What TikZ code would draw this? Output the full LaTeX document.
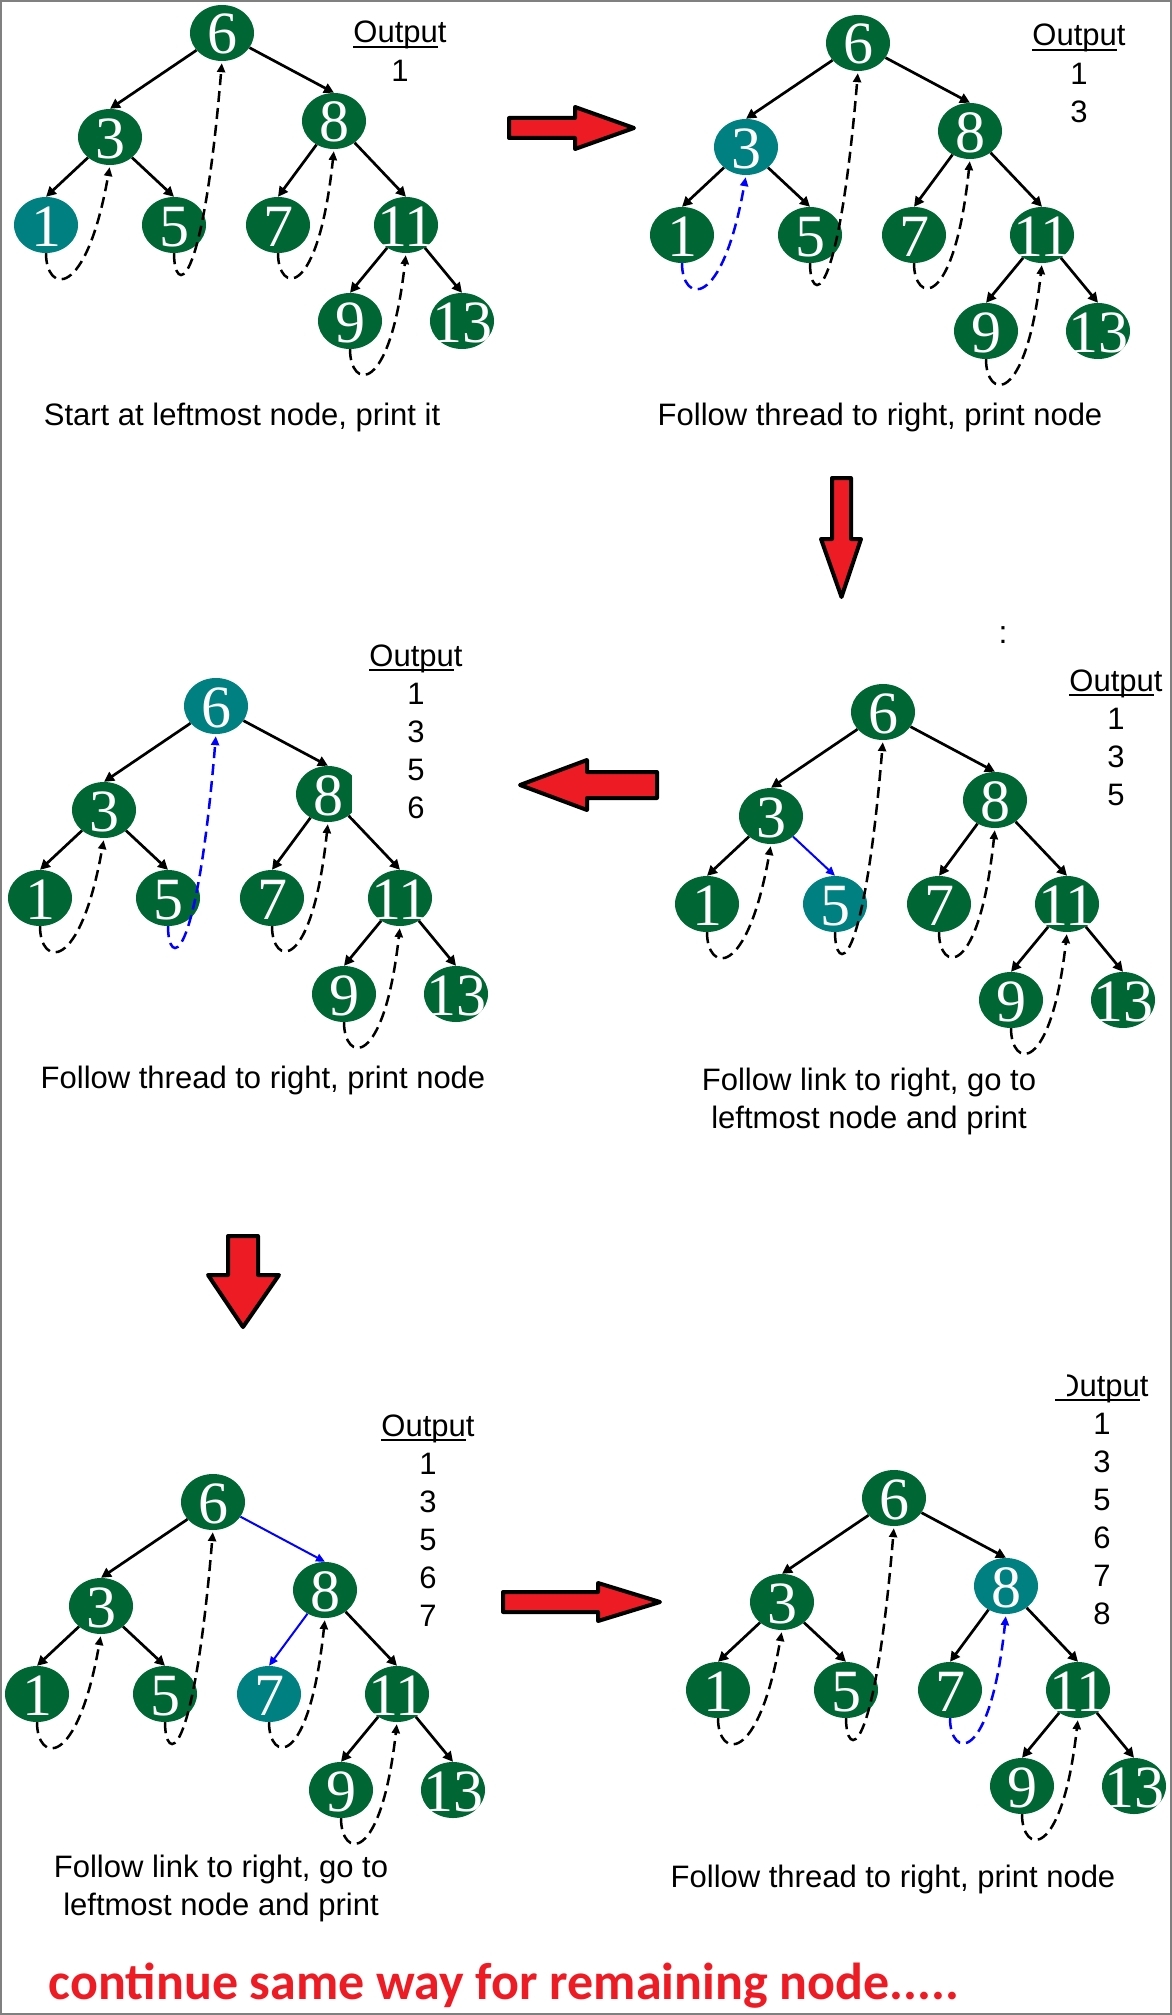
\documentclass[tikz,border=0pt]{standalone}
\usepackage{fontspec}
\usetikzlibrary{shapes.geometric,arrows.meta,calc}
\newfontfamily\serifd{Liberation Serif}
\newfontfamily\sansf{Liberation Sans}
\newfontfamily\carl{Carlito}
\definecolor{ngreen}{RGB}{0,102,51}
\definecolor{nteal}{RGB}{0,128,128}
\definecolor{ared}{RGB}{237,28,36}
\definecolor{framegray}{RGB}{128,128,128}
\newcommand\dig[1]{\makebox[0pt]{\raisebox{-0.35em}[0pt][0pt]{#1}}}
\tikzset{
 tn/.style={ellipse, fill=ngreen, text=white, minimum width=64pt, minimum height=56pt, inner sep=0pt, font=\serifd\fontsize{60}{60}\selectfont},
 hl/.style={fill=nteal},
 edge/.style={-{Triangle[length=10pt,width=10pt]}, line width=2.7pt, black},
 bedge/.style={-{Triangle[length=9pt,width=8pt]}, line width=2pt, blue},
 thr/.style={-{Triangle[length=9pt,width=8pt]}, line width=2.5pt, dash pattern=on 11pt off 6pt, shorten >=2pt, black},
 txt/.style={font=\sansf\fontsize{31}{38}\selectfont, inner sep=0pt},
 bigarr/.style={fill=ared, draw=black, line width=4pt, line join=round},
 s1/.style={},s3/.style={},s5/.style={},s6/.style={},s7/.style={},s8/.style={},s9/.style={},s11/.style={},s13/.style={},
 e63/.style={},e68/.style={},e31/.style={},e35/.style={},e87/.style={},e811/.style={},e119/.style={},e1113/.style={},
 t13/.style={},t56/.style={},t78/.style={},t911/.style={}
}
% #1 style, #2 leaf, #3 ancestor, #4 horizontal width of the loop
\newcommand\thread[4]{%
 \draw[thr,#1] (#2.south) .. controls ($(#2.south)+(0,40)$) and ($(#2.south)+(#4,48)$) .. (#3.south);}
\newcommand\bintree[3]{%
 \node[tn,s6] (#1-6) at (#2,#3) {\dig{6}};
 \node[tn,s3] (#1-3) at (#2-112,#3+104) {\dig{3}};
 \node[tn,s8] (#1-8) at (#2+112,#3+88) {\dig{8}};
 \node[tn,s1] (#1-1) at (#2-176,#3+192) {\dig{1}};
 \node[tn,s5] (#1-5) at (#2-48,#3+192) {\dig{5}};
 \node[tn,s7] (#1-7) at (#2+56,#3+192) {\dig{7}};
 \node[tn,s11] (#1-11) at (#2+184,#3+192) {\dig{11}};
 \node[tn,s9] (#1-9) at (#2+128,#3+288) {\dig{9}};
 \node[tn,s13] (#1-13) at (#2+240,#3+288) {\dig{13}};
 \draw[edge,e63] (#1-6) -- (#1-3.north);
 \draw[edge,e68] (#1-6) -- (#1-8.north);
 \draw[edge,e31] (#1-3) -- (#1-1.north);
 \draw[edge,e35] (#1-3) -- (#1-5.north);
 \draw[edge,e87] (#1-8) -- (#1-7.north);
 \draw[edge,e811] (#1-8) -- (#1-11.north);
 \draw[edge,e119] (#1-11) -- (#1-9.north);
 \draw[edge,e1113] (#1-11) -- (#1-13.north);
 \thread{t13}{#1-1}{#1-3}{40}
 \thread{t56}{#1-5}{#1-6}{28}
 \thread{t78}{#1-7}{#1-8}{40}
 \thread{t911}{#1-9}{#1-11}{40}
}
\newcommand\outblock[4]{%
 \node[txt, anchor=base] (#1) at (#2,#3) {Output};
 \draw[line width=2pt] ([yshift=-4pt]#1.base west) -- ([yshift=-4pt,xshift=-9pt]#1.base east);
 \foreach \v [count=\i] in {#4} {\node[txt] (#1-\i) at (#2, #3+28+38*\i-38) {\v};}
}
\begin{document}
\begin{tikzpicture}[x=1pt,y=-1pt]
\useasboundingbox (0,0) rectangle (1172,2015);
\draw[framegray, line width=2pt] (1,1) rectangle (1171,2014);

% panel 1
\begin{scope}[s1/.style={hl}]
 \bintree{pa}{222}{33}
\end{scope}
\outblock{pa-out}{400}{43}{1}
\node[txt, anchor=base] (pa-cap) at (242,425) {Start at leftmost node, print it};

% panel 2
\begin{scope}[s3/.style={hl}, t13/.style={blue}]
 \bintree{pb}{858}{43}
\end{scope}
\outblock{pb-out}{1079}{46}{1,3}
\node[txt, anchor=base] (pb-cap) at (880,425) {Follow thread to right, print node};

% panel 3
\begin{scope}[s6/.style={hl}, t56/.style={blue}]
 \bintree{pc}{216}{706}
\end{scope}
\fill[white] (352,760) rectangle (372,818);
\outblock{pc-out}{416}{666}{1,3,5,6}
\node[txt, anchor=base] (pc-cap) at (263,1088) {Follow thread to right, print node};

% panel 4
\begin{scope}[s5/.style={hl}, e35/.style={bedge}]
 \bintree{pd}{883}{712}
\end{scope}
\outblock{pd-out}{1116}{691}{1,3,5}
\node[txt, anchor=base] (pd-cap1) at (869,1090) {Follow link to right, go to};
\node[txt, anchor=base] (pd-cap2) at (869,1128) {leftmost node and print};
\node[font=\sansf\fontsize{32}{32}\selectfont, anchor=base, inner sep=0pt] (colon) at (1003,643) {:};

% panel 5
\begin{scope}[s7/.style={hl}, e68/.style={bedge}, e87/.style={bedge}]
 \bintree{pe}{213}{1502}
\end{scope}
\outblock{pe-out}{428}{1436}{1,3,5,6,7}
\node[txt, anchor=base] (pe-cap1) at (221,1877) {Follow link to right, go to};
\node[txt, anchor=base] (pe-cap2) at (221,1915) {leftmost node and print};

% panel 6
\begin{scope}[s8/.style={hl}, t78/.style={blue}]
 \bintree{pf}{894}{1498}
\end{scope}
\outblock{pf-out}{1102}{1396}{1,3,5,6,7,8}
\fill[white] (1040,1362) rectangle (1067,1399);
\node[txt, anchor=base] (pf-cap) at (893,1887) {Follow thread to right, print node};

% big arrows
\draw[bigarr] (509,118) -- (575,118) -- (575,107) -- (634,128) -- (575,149) -- (575,138) -- (509,138) -- cycle;
\draw[bigarr] (832,478) -- (851,478) -- (851,539) -- (861,539) -- (841.5,597) -- (821,539) -- (832,539) -- cycle;
\draw[bigarr] (657,772) -- (587,772) -- (587,760) -- (520,785) -- (587,810) -- (587,798) -- (657,798) -- cycle;
\draw[bigarr] (228,1236) -- (258,1236) -- (258,1275) -- (279,1275) -- (243,1327) -- (208,1275) -- (228,1275) -- cycle;
\draw[bigarr] (503,1592) -- (598,1592) -- (598,1583) -- (660,1602) -- (598,1621) -- (598,1612) -- (503,1612) -- cycle;

% bottom text
\node[font=\carl\bfseries\fontsize{52}{52}\selectfont, text=ared, anchor=base, inner sep=0pt] (bottom) at (504,1999) {continue same way for remaining node.....};
\end{tikzpicture}
\end{document}
